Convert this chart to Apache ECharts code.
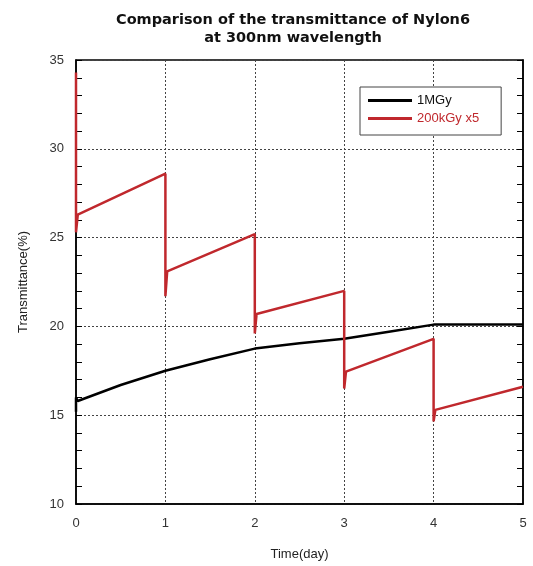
<!DOCTYPE html>
<html>
<head>
<meta charset="utf-8">
<script src="https://cdn.jsdelivr.net/npm/echarts@6/dist/echarts.min.js"></script>
<style>html,body{margin:0;padding:0;background:#fff}#c{width:533px;height:566px}</style>
</head>
<body>
<div id="c"></div>
<script>
// 1MGy series: [day, transmittance %]
const days1MGy = [0, 0, 0.02, 0.5, 1, 1.5, 2, 2.5, 3, 3.5, 4, 5];
const vals1MGy = [15.2, 16.0, 15.8, 16.7, 17.5, 18.15, 18.75, 19.05, 19.3, 19.7, 20.1, 20.1];
// 200kGy x5 series
const days200k = [0, 0, 0.02, 1, 1, 1.02, 2, 2, 2.02, 3, 3, 3.02, 4, 4, 4.02, 5];
const vals200k = [34.3, 25.3, 26.3, 28.6, 21.7, 23.1, 25.2, 19.6, 20.7, 22.0, 16.5, 17.45, 19.3, 14.65, 15.3, 16.6];
const seriesNames = ['1MGy', '200kGy x5'];
const xTicks = [0, 1, 2, 3, 4, 5];

const chart = echarts.init(document.getElementById('c'), null, {renderer: 'canvas'});
const font = 'Liberation Sans, Arial, sans-serif';
const pair = (xs, ys) => xs.map((x, i) => [x, ys[i]]);
const yAxisBase = {
  type: 'value', min: 10, max: 35, interval: 5,
  axisLine: {show: true, lineStyle: {color: '#000', width: 1.5}},
  axisTick: {show: true, inside: true, length: 6, lineStyle: {color: '#000'}},
  minorTick: {show: true, splitNumber: 5, length: 6, lineStyle: {color: '#000'}},
};
chart.setOption({
  animation: false,
  backgroundColor: '#fff',
  title: {
    text: 'Comparison of the transmittance of Nylon6\nat 300nm wavelength',
    left: 288, top: 6, textAlign: 'center',
    textStyle: {fontFamily: 'DejaVu Sans, sans-serif', fontSize: 14.5, fontWeight: 'bold', color: '#111', lineHeight: 18}
  },
  grid: {left: 76, right: 10, top: 60, bottom: 58, show: true, borderColor: '#000', borderWidth: 1.5},
  legend: {
    orient: 'vertical', left: 360, top: 87, width: 137,
    padding: [7, 22, 10, 8], itemGap: 5,
    borderColor: '#444', borderWidth: 1, backgroundColor: '#fff',
    itemWidth: 44, itemHeight: 3, icon: 'rect',
    data: [
      {name: seriesNames[0], textStyle: {color: '#111'}},
      {name: seriesNames[1], textStyle: {color: '#c0282d'}}
    ],
    textStyle: {fontFamily: font, fontSize: 13, padding: [0, 0, 0, 0]}
  },
  xAxis: {
    type: 'value', min: 0, max: 5, interval: 1,
    name: 'Time(day)', nameLocation: 'middle', nameGap: 44,
    nameTextStyle: {fontFamily: font, fontSize: 13, color: '#222'},
    axisLabel: {fontFamily: font, fontSize: 13, color: '#333', margin: 13,
      formatter: v => xTicks.includes(v) ? String(v) : ''},
    axisLine: {show: true, lineStyle: {color: '#000', width: 1.5}},
    axisTick: {show: false},
    splitLine: {show: true, lineStyle: {color: '#444', type: [2, 2], width: 1}}
  },
  yAxis: [
    Object.assign({}, yAxisBase, {
      position: 'left',
      name: 'Transmittance(%)', nameLocation: 'middle', nameGap: 46,
      nameTextStyle: {fontFamily: font, fontSize: 13, color: '#222'},
      axisLabel: {fontFamily: font, fontSize: 13, color: '#333', margin: 12},
      splitLine: {show: true, lineStyle: {color: '#444', type: [2, 2], width: 1}}
    }),
    Object.assign({}, yAxisBase, {
      position: 'right',
      axisLabel: {show: false},
      splitLine: {show: false}
    })
  ],
  series: [
    {name: seriesNames[0], type: 'line', data: pair(days1MGy, vals1MGy), showSymbol: false,
      color: '#000', lineStyle: {width: 2.5, color: '#000'}, z: 3},
    {name: seriesNames[1], type: 'line', data: pair(days200k, vals200k), showSymbol: false,
      color: '#c0282d', lineStyle: {width: 2.5, color: '#c0282d'}, z: 4}
  ]
});
</script>
</body>
</html>
